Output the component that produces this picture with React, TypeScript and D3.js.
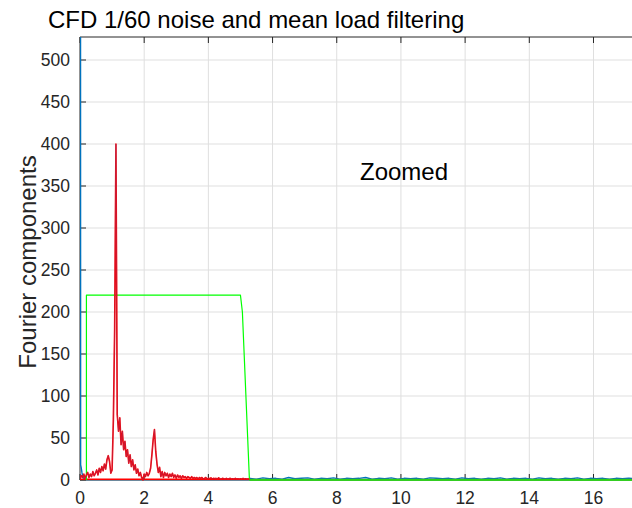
import React from "react";
import * as d3 from "d3";

const W = 632, H = 508;
const M = { left: 80, right: 632, top: 37, bottom: 480 };
const X_MAX = 17.2, Y_MAX = 527.4;

const xTicks = [0, 2, 4, 6, 8, 10, 12, 14, 16];
const yTicks = [0, 50, 100, 150, 200, 250, 300, 350, 400, 450, 500];

const titleText = "CFD 1/60 noise and mean load filtering";
const yLabel = "Fourier components";
const annotation = "Zoomed";

// red spectrum, sampled every 0.04
const redStep = 0.04;
const redValues = [
  2, 5, 3, 7, 2, 6, 9, 3, 7, 4, 10, 5, 8, 12, 6, 14, 9, 16, 11, 19, 13, 24, 29, 22, 8,
  12, 72, 180, 400, 78, 58, 74, 42, 58, 36, 46, 28, 36, 20, 30, 16, 24, 12, 18, 8, 13,
  5, 9, 3, 0, 7, 4, 9, 5, 8, 14, 30, 48, 60, 34, 19, 9, 15, 4, 10, 3, 9, 5, 8, 3, 7, 4,
  8, 3, 6, 2, 6, 3, 5, 2, 5, 3, 4, 2, 4, 3, 2, 4, 2, 3, 2, 3, 1, 3, 2, 3, 1, 2, 3, 1,
  2, 1.5, 2.5, 1, 2, 1.5, 2, 1, 2.5, 1.5, 1, 2, 1.5, 1, 2, 1, 1.5, 2, 1, 1.5, 1, 2, 1,
  1.5, 1, 1.5, 1, 2, 1, 1.5, 1, 1, 1
];

// blue spectrum near zero frequency (mean load spike)
const blueLowFreq = [0, 0.02, 0.04, 0.06, 0.08, 0.1, 0.14, 0.2, 5.3];
const blueLowVals = [3000, 18, 14, 9, 5, 3, 1, 0.5, 0.5];
// blue noise above the filter cut, sampled every 0.2 from 5.3
const blueTailStart = 5.3;
const blueTailStep = 0.2;
const blueTailVals = [
  2, 1, 2.5, 1.5, 2, 1, 3, 1.5, 2, 2.5, 1, 2, 1.5, 2.5, 1, 2, 1.5, 2, 3, 1, 2, 1.5, 2.5,
  1, 2, 1.5, 2, 1, 2.5, 2, 1.5, 2, 1, 2.5, 1.5, 2, 1, 2, 1.5, 2.5, 1, 2, 1.5, 2, 1, 2.5,
  1.5, 2, 1, 2, 1.5, 2.5, 1, 2, 1.5, 2, 1, 2, 1.5, 2, 1.5
];

// filter window (green)
const filterFreq = [0.2, 0.2, 5.0, 5.06, 5.28, 17.2];
const filterVals = [0, 220, 220, 200, 0, 0];

// filtered-out tail (dark green)
const tailFreq = [5.3, 17.2];
const tailVals = [0.4, 0.4];

export default function App() {
  const x = d3.scaleLinear().domain([0, X_MAX]).range([M.left, M.right]);
  const y = d3.scaleLinear().domain([0, Y_MAX]).range([M.bottom, M.top]);
  const line = d3.line<[number, number]>().x(d => x(d[0])).y(d => y(d[1]));

  const red: [number, number][] = redValues.map((v, i) => [i * redStep, v]);
  const blueLow: [number, number][] = blueLowFreq.map((f, i) => [f, blueLowVals[i]]);
  const blueTail: [number, number][] = blueTailVals.map((v, i) => [blueTailStart + i * blueTailStep, v]);
  const blue = blueLow.concat(blueTail);
  const filt: [number, number][] = filterFreq.map((f, i) => [f, filterVals[i]]);
  const tail: [number, number][] = tailFreq.map((f, i) => [f, tailVals[i]]);
  const redZero: [number, number][] = [[0, 0.9], [5.3, 0.9]];

  const font = "'Liberation Sans', Arial, Helvetica, sans-serif";
  const axisColor = "#262626";

  return (
    <svg width={W} height={H} style={{ position: "absolute", left: 0, top: 0, background: "#fff" }}
      fontFamily={font}>
      <defs>
        <clipPath id="plot">
          <rect x={M.left} y={M.top} width={M.right - M.left} height={M.bottom - M.top + 1} />
        </clipPath>
      </defs>
      <rect x={M.left} y={M.top} width={M.right - M.left} height={M.bottom - M.top} fill="#fff" />
      {/* grid */}
      {xTicks.filter(t => t > 0).map(t => (
        <line key={"gx" + t} x1={x(t)} x2={x(t)} y1={M.top} y2={M.bottom} stroke="#dfdfdf" strokeWidth={1} />
      ))}
      {yTicks.filter(t => t > 0).map(t => (
        <line key={"gy" + t} x1={M.left} x2={M.right} y1={y(t)} y2={y(t)} stroke="#dfdfdf" strokeWidth={1} />
      ))}
      {/* axes box */}
      <line x1={M.left} x2={M.right} y1={M.top} y2={M.top} stroke={axisColor} strokeWidth={1} />
      <line x1={M.left} x2={M.right} y1={M.bottom} y2={M.bottom} stroke={axisColor} strokeWidth={1} />
      <line x1={M.left} x2={M.left} y1={M.top} y2={M.bottom} stroke={axisColor} strokeWidth={1} />
      {/* ticks */}
      {xTicks.map(t => (
        <g key={"tx" + t}>
          <line x1={x(t)} x2={x(t)} y1={M.bottom} y2={M.bottom - 6} stroke={axisColor} />
          <line x1={x(t)} x2={x(t)} y1={M.top} y2={M.top + 6} stroke={axisColor} />
          <text x={x(t)} y={504} textAnchor="middle" fontSize={17.5} fill={axisColor}>{t}</text>
        </g>
      ))}
      {yTicks.map(t => (
        <g key={"ty" + t}>
          <line x1={M.left} x2={M.left + 6} y1={y(t)} y2={y(t)} stroke={axisColor} />
          <text x={70} y={y(t) + 6} textAnchor="end" fontSize={17.5} fill={axisColor}>{t}</text>
        </g>
      ))}
      {/* data */}
      <g clipPath="url(#plot)" fill="none" strokeLinejoin="round">
        <path d={line(blue) || ""} stroke="#0072BD" strokeWidth={1.4} />
        <path d={line(redZero) || ""} stroke="#FF0000" strokeWidth={1.6} />
        <path d={line(tail) || ""} stroke="#5a9e2a" strokeWidth={2} />
        <path d={line(filt) || ""} stroke="#00FF00" strokeWidth={1.2} />
        <path d={line(red) || ""} stroke="#FF0000" strokeWidth={1.6} />
        <path d={line(red) || ""} stroke="#8c3a72" strokeWidth={0.6} opacity={0.7} />
      </g>
      {/* texts */}
      <text x={48} y={28} fontSize={24} fill="#000">{titleText}</text>
      <text x={360} y={180} fontSize={24} fill="#000">{annotation}</text>
      <text transform={`translate(36, 262) rotate(-90)`} textAnchor="middle"
        fontSize={24} fill={axisColor}>{yLabel}</text>
    </svg>
  );
}
